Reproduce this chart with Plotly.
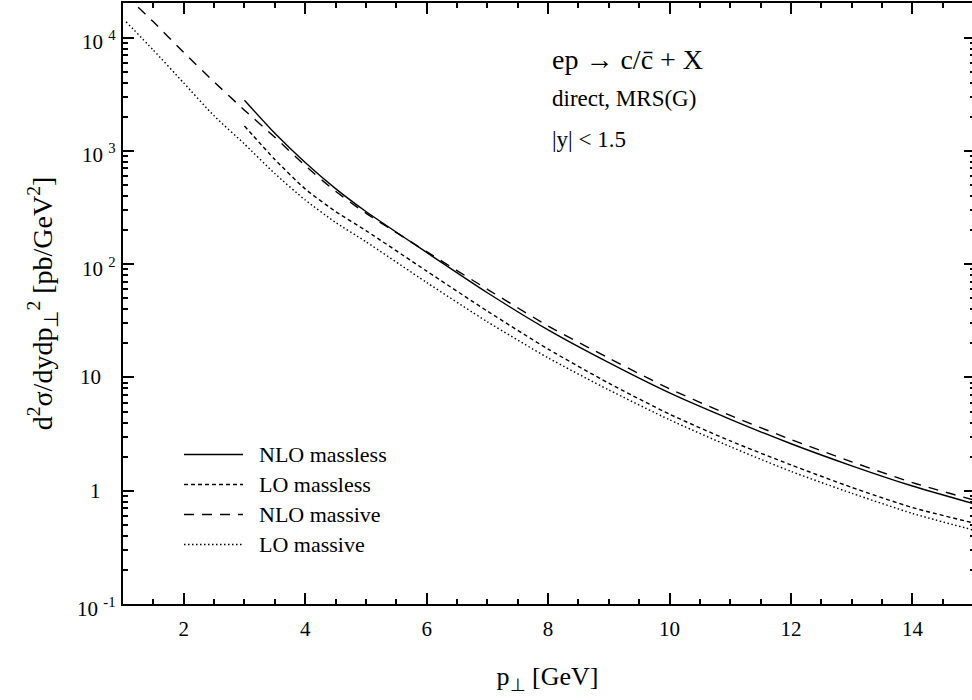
import plotly.graph_objects as go

# transverse momentum grids [GeV]
pt_massless = [3.0, 3.5, 4.0, 4.5, 5.0, 6.0, 7.0, 8.0, 9.0, 10.0, 11.0, 12.0, 13.0, 14.0, 15.0]
pt_nlo_massive = [1.25, 1.5, 2.0, 2.5, 3.0, 3.5, 4.0, 4.5, 5.0, 6.0, 7.0, 8.0, 9.0, 10.0,
                  11.0, 12.0, 13.0, 14.0, 15.0]
pt_lo_massive = [1.05, 1.5, 2.0, 2.5, 3.0, 3.5, 4.0, 4.5, 5.0, 6.0, 7.0, 8.0, 9.0, 10.0,
                 11.0, 12.0, 13.0, 14.0, 15.0]

# d^2 sigma / dy dpT^2  [pb/GeV^2]
nlo_massless = [2800, 1430, 790, 465, 292, 127, 56, 26.3, 13.5, 7.3, 4.27, 2.6, 1.66, 1.10, 0.77]
lo_massless = [1660, 841, 462, 292, 198, 87, 38.5, 17.8, 8.9, 4.74, 2.75, 1.69, 1.07, 0.71, 0.52]
nlo_massive = [18600, 13800, 7400, 4070, 2290, 1320, 741, 440, 282, 129, 60, 28.5, 14.8, 7.94,
               4.62, 2.83, 1.80, 1.18, 0.83]
lo_massive = [13800, 7760, 3980, 2040, 1150, 631, 369, 234, 158, 69, 31, 14.9, 7.76, 4.23,
              2.45, 1.48, 0.95, 0.63, 0.45]

series_names = ["NLO massless", "LO massless", "NLO massive", "LO massive"]
series_dash = ["solid", "4px,3px", "10px,8px", "1.5px,2.5px"]

# axis tick labels
x_ticks = [2, 4, 6, 8, 10, 12, 14]
y_tick_exp = [4, 3, 2, 1, 0, -1]
y_tick_text = ["10 <sup>4</sup>", "10 <sup>3</sup>", "10 <sup>2</sup>", "10", "1", "10 <sup>-1</sup>"]

W, H = 972, 700
L, R, T, B = 123, 0, 3, 96
PW, PH = W - L - R, H - T - B
FONT = "Liberation Serif, Times New Roman, serif"
Y_RANGE = [-1, 4.306]


def px(xp):
    return (xp - L) / PW


def py(yp):
    return 1 - (yp - T) / PH


fig = go.Figure()
curves = [(pt_massless, nlo_massless), (pt_massless, lo_massless),
          (pt_nlo_massive, nlo_massive), (pt_lo_massive, lo_massive)]
for (xs, ys), name, dash in zip(curves, series_names, series_dash):
    fig.add_trace(go.Scatter(x=xs, y=ys, mode="lines", name=name, showlegend=False,
                             line=dict(color="black", width=1.4, dash=dash, shape="spline",
                                       smoothing=0.6)))

# the right-hand frame carries ticks only (no axis line)
fig.add_trace(go.Scatter(x=[None], y=[None], yaxis="y2", showlegend=False,
                         hoverinfo="skip"))

# legend drawn as short sample lines with labels
legend_rows = [454.5, 484.5, 514.5, 544.5]
for yrow, name, dash in zip(legend_rows, series_names, series_dash):
    fig.add_shape(type="line", xref="paper", yref="paper", x0=px(184), x1=px(243),
                  y0=py(yrow), y1=py(yrow), line=dict(color="black", width=1.4, dash=dash))
    fig.add_annotation(xref="paper", yref="paper", x=px(257), y=py(yrow), text=name,
                       showarrow=False, xanchor="left", yanchor="middle",
                       font=dict(family=FONT, size=22, color="black"))

# process description
for text, ycen, size in [("ep → c/c̄ + X", 59, 28), ("direct, MRS(G)", 99, 23),
                         ("|y| < 1.5", 139, 23)]:
    fig.add_annotation(xref="paper", yref="paper", x=px(550), y=py(ycen), text=text,
                       showarrow=False, xanchor="left", yanchor="middle",
                       font=dict(family=FONT, size=size, color="black"))

# y tick labels: powers of ten with raised exponents
for e, t in zip(y_tick_exp, y_tick_text):
    has_exp = "<sup>" in t
    fig.add_annotation(xref="paper", yref="y", x=0, y=e, text=t, showarrow=False,
                       xanchor="right", yanchor="middle",
                       xshift=-5 if has_exp else -20, yshift=-3 if has_exp else 0,
                       font=dict(family=FONT, size=21, color="black"))

minor_y = [m * 10 ** k for k in range(-1, 5) for m in range(2, 10)]
minor_x = [v / 2 for v in range(2, 31) if v % 4 != 0]

fig.update_layout(
    width=W, height=H, margin=dict(l=L, r=R, t=T, b=B, pad=0),
    paper_bgcolor="white", plot_bgcolor="white",
    font=dict(family=FONT, size=21, color="black"),
    xaxis=dict(range=[1, 14.98], showgrid=False, zeroline=False,
               showline=True, linecolor="black", linewidth=2, mirror="ticks",
               ticks="inside", ticklen=11, tickwidth=1.5, tickcolor="black",
               tickmode="array", tickvals=x_ticks, ticktext=[str(v) for v in x_ticks],
               tickfont=dict(family=FONT, size=21), ticklabelstandoff=5,
               minor=dict(ticks="inside", ticklen=5, tickwidth=1.5, tickcolor="black",
                          tickmode="array", tickvals=minor_x, showgrid=False),
               title=dict(text="p<sub>⊥</sub> [GeV]", font=dict(family=FONT, size=26),
                          standoff=27)),
    yaxis=dict(type="log", range=Y_RANGE, showgrid=False, zeroline=False,
               showline=True, linecolor="black", linewidth=2, mirror=False,
               ticks="inside", ticklen=11, tickwidth=1.5, tickcolor="black",
               tickmode="array", tickvals=[10 ** e for e in y_tick_exp],
               showticklabels=False,
               minor=dict(ticks="inside", ticklen=5, tickwidth=1.5, tickcolor="black",
                          tickmode="array", tickvals=minor_y, showgrid=False),
               title=dict(text="d<sup>2</sup>σ/dydp<sub>⊥</sub><sup>2</sup> [pb/GeV<sup>2</sup>]",
                          font=dict(family=FONT, size=28), standoff=60)),
    yaxis2=dict(type="log", range=Y_RANGE, overlaying="y", side="right",
                showgrid=False, zeroline=False, showline=False,
                ticks="inside", ticklen=8, tickwidth=1.5, tickcolor="black",
                tickmode="array", tickvals=[10 ** e for e in y_tick_exp],
                showticklabels=False,
                minor=dict(ticks="inside", ticklen=2, tickwidth=1.5, tickcolor="black",
                           tickmode="array", tickvals=minor_y, showgrid=False)),
)

fig.write_html("out.html")
